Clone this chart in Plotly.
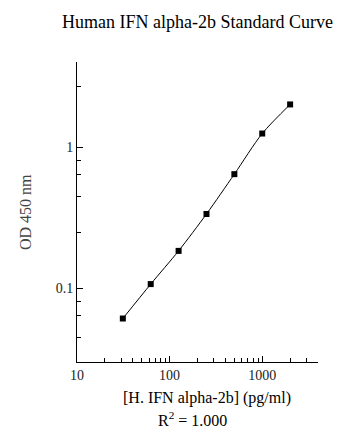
import plotly.graph_objects as go

# Data
conc = [31.25, 62.5, 125, 250, 500, 1000, 2000]          # pg/ml
od = [0.061, 0.107, 0.184, 0.336, 0.644, 1.25, 2.01]      # OD 450 nm

# Tick labels
x_major = [10, 100, 1000]
x_major_text = ["10", "100", "1000"]
x_minor = [20, 30, 40, 50, 60, 70, 80, 90,
           200, 300, 400, 500, 600, 700, 800, 900,
           2000, 3000]
y_major = [0.1, 1]
y_major_text = ["0.1", "1"]
y_minor = [0.045, 0.064, 0.081, 0.25, 0.45, 0.64, 0.81, 2.7]

title_text = "Human IFN alpha-2b Standard Curve"
x_title = "[H. IFN alpha-2b] (pg/ml)"
y_title = "OD 450 nm"
r2_text = "R<sup>2</sup> = 1.000"

FONT = "Liberation Serif, Times New Roman, serif"

fig = go.Figure()
fig.add_trace(go.Scatter(
    x=conc, y=od,
    mode="lines+markers",
    line=dict(color="black", width=1, shape="spline", smoothing=0.8),
    marker=dict(symbol="square", size=6, color="black"),
    showlegend=False,
    hoverinfo="x+y",
))

fig.update_layout(
    width=360, height=444,
    margin=dict(l=77, r=42, t=62, b=82),
    paper_bgcolor="white", plot_bgcolor="white",
    font=dict(family=FONT, color="black"),
    title=dict(text=title_text, x=197.5 / 360, xanchor="center",
               y=1 - 22 / 444, yanchor="middle",
               font=dict(family=FONT, size=18, color="black")),
    showlegend=False,
)

fig.update_xaxes(
    type="log", range=[1, 3.602],
    showline=True, linecolor="black", linewidth=1,
    showgrid=False, zeroline=False,
    ticks="inside", ticklen=6, tickcolor="black", tickwidth=1,
    tickmode="array", tickvals=x_major, ticktext=x_major_text,
    tickfont=dict(family=FONT, size=14, color="#222"),
    minor=dict(tickmode="array", tickvals=x_minor, ticks="inside",
               ticklen=4, tickcolor="black", tickwidth=1, showgrid=False),
)
fig.update_yaxes(
    type="log", range=[-1.523, 0.604],
    showline=True, linecolor="black", linewidth=1,
    showgrid=False, zeroline=False,
    ticks="inside", ticklen=6, tickcolor="black", tickwidth=1,
    tickmode="array", tickvals=y_major, ticktext=y_major_text,
    tickfont=dict(family=FONT, size=14, color="#222"),
    minor=dict(tickmode="array", tickvals=y_minor, ticks="inside",
               ticklen=4, tickcolor="black", tickwidth=1, showgrid=False),
)

fig.add_annotation(text=y_title, xref="paper", yref="paper",
                   x=(25 - 77) / 241, y=0.5, textangle=-90,
                   xanchor="center", yanchor="middle", showarrow=False,
                   font=dict(family=FONT, size=16, color="#444"))
fig.add_annotation(text=x_title, xref="paper", yref="paper",
                   x=(207 - 77) / 241, y=(362 - 398) / 300,
                   xanchor="center", yanchor="middle", showarrow=False,
                   font=dict(family=FONT, size=16, color="black"))
fig.add_annotation(text=r2_text, xref="paper", yref="paper",
                   x=(192 - 77) / 241, y=(362 - 419) / 300,
                   xanchor="center", yanchor="middle", showarrow=False,
                   font=dict(family=FONT, size=16, color="black"))

fig.write_html("out.html",
               config={"displayModeBar": False},
               post_script="document.body.style.margin='0';"
                           "document.body.style.overflow='hidden';")
